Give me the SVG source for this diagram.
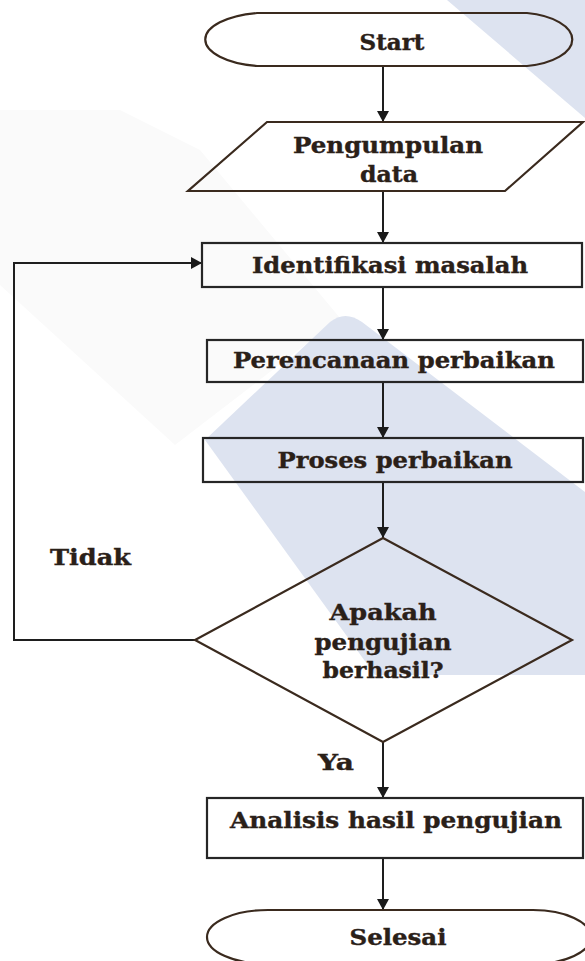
<svg xmlns="http://www.w3.org/2000/svg" width="585" height="961" viewBox="0 0 585 961">
<style>
.bg{fill:#ffffff}
.wm{fill:#dde3f0}
.wm2{fill:#fafafa}
.box{fill:none;stroke:#262626;stroke-width:2.2}
.shape{fill:none;stroke:#3a2a1e;stroke-width:2.2}
.edge{fill:none;stroke:#1e1e1e;stroke-width:2}
.t{font-family:"DejaVu Serif","Liberation Serif",serif;font-weight:bold;font-size:23px;fill:#2a2018;stroke:#2a2018;stroke-width:0.4;text-anchor:middle}
.tl{font-family:"DejaVu Serif","Liberation Serif",serif;font-weight:bold;font-size:23px;fill:#2a2018;stroke:#2a2018;stroke-width:0.4}
</style>
<defs>
<marker id="ah" markerUnits="userSpaceOnUse" markerWidth="12" markerHeight="12" refX="11" refY="6" orient="auto">
<path d="M0,0 L11,6 L0,12 z" fill="#1a1a1a"/>
</marker>
</defs>
<rect class="bg" x="0" y="0" width="585" height="961"/>
<g id="watermark">
<polygon class="wm2" points="0,110 120,110 200,150 340,318 175,445 0,285"/>
<polygon class="wm" points="447,0 585,0 585,118"/>
<path class="wm" d="M330,322 Q345,310 362,322 L585,492 L585,675 L375,675 L205,440 Z"/>
</g>
<g id="connectors">
<line class="edge" x1="383" y1="66" x2="383" y2="122" marker-end="url(#ah)"/>
<line class="edge" x1="383" y1="191" x2="383" y2="243" marker-end="url(#ah)"/>
<line class="edge" x1="383" y1="287" x2="383" y2="340" marker-end="url(#ah)"/>
<line class="edge" x1="383" y1="382" x2="383" y2="438" marker-end="url(#ah)"/>
<line class="edge" x1="383" y1="482" x2="383" y2="538" marker-end="url(#ah)"/>
<line class="edge" x1="383" y1="742" x2="383" y2="798" marker-end="url(#ah)"/>
<line class="edge" x1="383" y1="858" x2="383" y2="910" marker-end="url(#ah)"/>
<polyline class="edge" points="195,640 14,640 14,263 202,263" marker-end="url(#ah)"/>
<text class="tl" x="50" y="565" textLength="81" lengthAdjust="spacingAndGlyphs">Tidak</text>
<text class="tl" x="318" y="770" textLength="36" lengthAdjust="spacingAndGlyphs">Ya</text>
</g>
<g id="start">
<path class="shape" d="M257,13 H527 A56,27 0 0 1 527,66 H257 A64,27 0 0 1 257,13 Z"/>
<text class="t" x="392" y="50" textLength="65" lengthAdjust="spacingAndGlyphs">Start</text>
</g>
<g id="pengumpulan">
<polygon class="shape" points="267,122 583,122 505,191 188,191"/>
<text class="t" x="388" y="153" textLength="190" lengthAdjust="spacingAndGlyphs">Pengumpulan</text>
<text class="t" x="389" y="182" textLength="58" lengthAdjust="spacingAndGlyphs">data</text>
</g>
<g id="identifikasi">
<rect class="box" x="202" y="243" width="380" height="44"/>
<text class="t" x="390" y="273" textLength="276" lengthAdjust="spacingAndGlyphs">Identifikasi masalah</text>
</g>
<g id="perencanaan">
<rect class="box" x="207" y="340" width="376" height="42"/>
<text class="t" x="394" y="368" textLength="322" lengthAdjust="spacingAndGlyphs">Perencanaan perbaikan</text>
</g>
<g id="proses">
<rect class="box" x="203" y="438" width="380" height="44"/>
<text class="t" x="395" y="468" textLength="235" lengthAdjust="spacingAndGlyphs">Proses perbaikan</text>
</g>
<g id="keputusan">
<polygon class="shape" points="383,538 572,640 383,742 195,640"/>
<text class="t" x="383" y="620" textLength="107" lengthAdjust="spacingAndGlyphs">Apakah</text>
<text class="t" x="383" y="650" textLength="137" lengthAdjust="spacingAndGlyphs">pengujian</text>
<text class="t" x="383" y="678" textLength="121" lengthAdjust="spacingAndGlyphs">berhasil?</text>
</g>
<g id="analisis">
<rect class="box" x="207" y="798" width="376" height="60"/>
<text class="t" x="396" y="828" textLength="332" lengthAdjust="spacingAndGlyphs">Analisis hasil pengujian</text>
</g>
<g id="selesai">
<path class="shape" d="M268,910 H533 A58,27 0 0 1 533,964 H268 A61,27 0 0 1 268,910 Z"/>
<text class="t" x="398" y="945" textLength="97" lengthAdjust="spacingAndGlyphs">Selesai</text>
</g>
</svg>
